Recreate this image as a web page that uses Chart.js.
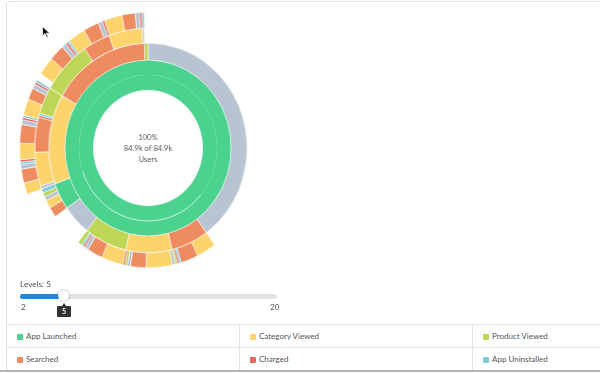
<!DOCTYPE html>
<html><head><meta charset="utf-8">
<script src="https://cdn.jsdelivr.net/npm/chart.js@4.4.1/dist/chart.umd.min.js"></script>
<style>
html,body{margin:0;padding:0;background:#fff;width:600px;height:373px;overflow:hidden;font-family:Lato,"Open Sans",sans-serif;color:#555;}
#panel{position:absolute;left:6px;top:1px;width:600px;height:370px;border:1px solid #e3e3e3;border-radius:3px;box-sizing:border-box;}
#bottomLine{position:absolute;left:0;top:370px;width:600px;height:2px;background:#b4b4b4;}
#chartBox{position:absolute;left:12px;top:12px;width:272px;height:272px;transform:scaleX(0.946);transform-origin:50% 50%;}
#levels{position:absolute;left:20px;top:279px;font-size:8.2px;}
#track{position:absolute;left:20px;top:294px;width:257px;height:5px;border-radius:3px;background:#e2e2e2;}
#fill{position:absolute;left:20px;top:294px;width:44px;height:5px;border-radius:3px;background:#1d87e4;}
#knob{position:absolute;left:58px;top:290px;width:11px;height:11px;border-radius:50%;background:#fff;box-shadow:0 0 2px rgba(0,0,0,.45);}
#min{position:absolute;left:21px;top:302px;font-size:8px;}
#max{position:absolute;left:270px;top:302px;font-size:8px;}
#tip{position:absolute;left:57px;top:306px;width:14px;height:11px;background:#333;color:#fff;font-size:7px;font-weight:bold;text-align:center;line-height:11px;border-radius:1px;}
#tip:before{content:"";position:absolute;left:5px;top:-3px;border-left:2px solid transparent;border-right:2px solid transparent;border-bottom:3px solid #333;}
#legend{position:absolute;left:7px;top:324px;width:593px;height:46px;border-top:1px solid #e3e3e3;}
.cell{position:absolute;height:23px;box-sizing:border-box;font-size:8px;line-height:23px;}
.cell span{display:inline-block;width:6px;height:6px;margin:0 3px 0 10px;vertical-align:-0.5px;border-radius:1px;}
#cursor{position:absolute;left:42px;top:26px;}
</style></head>
<body>
<div id="panel"></div>
<div id="chartBox"><canvas id="c"></canvas></div>
<svg id="cursor" width="9" height="13" viewBox="0 0 9 13"><path d="M0.5 0.5 L0.5 10 L3 7.6 L4.8 11.8 L6.2 11.2 L4.4 7.2 L7.8 7.2 Z" fill="#111" stroke="#fff" stroke-width="0.8"/></svg>
<div id="levels">Levels: 5</div>
<div id="track"></div><div id="fill"></div><div id="knob"></div>
<div id="min">2</div><div id="max">20</div>
<div id="tip">5</div>
<div id="legend"></div>
<div id="bottomLine"></div>
<script>
// ---- data (thousands of users, clockwise from 12 o'clock) ----
const eventNames = ['App Launched','Category Viewed','Product Viewed','Searched','Charged','App Uninstalled'];
const eventColors = ['#4bd28e','#fdd36b','#bdd655','#ee8c60','#e6675f','#7fcbd8'];
const dropColor = '#b8c4d2';
const centerLines = ['100%','84.9k of 84.9k','Users'];
const sliderMin = 2, sliderMax = 20, sliderValue = 5;

const level1Events = ['AL'];
const level1Users  = [84.9];

const level2Events = ['AL'];
const level2Users  = [84.9];

const level3Events = ['DROP','SE','CV','PV','DROP','AL','CV','SE','PV'];
const level3Users  = [33.96,5.19,6.37,5.90,4.01,3.54,11.79,13.68,0.47];

const level4Events = ['NONE','CV','SE','AU','CH','PV','DROP','CV','SE','DROP','PV','CH','CV','SE','DROP','CH','AU','PV','NONE','SE','CV','DROP','PV','AU','DROP','CV','SE','CH','AU','PV','PV','SE','CV','DROP','NONE'];
const level4Users  = [33.96,2.36,2.12,0.24,0.24,0.24,0.35,3.18,1.89,0.35,0.35,0.24,2.59,1.89,0.47,0.24,0.24,0.47,4.01,1.18,0.94,0.47,0.47,0.47,0.35,3.89,4.01,0.24,0.24,3.07,6.13,3.30,4.01,0.24,0.47];

const level5Events = ['NONE','CV','SE','DROP','AU','CH','CV','SE','DROP','CH','AU','CV','SE','DROP','CH','AU','NONE','CV','SE','DROP','CH','AU','CV','SE','DROP','CH','CV','SE','DROP','CH','AU','NONE'];
const level5Users  = [58.96,1.18,1.42,0.47,0.24,0.24,1.65,1.89,0.47,0.24,0.24,1.65,1.18,0.47,0.24,0.24,0.71,1.89,1.65,0.47,0.24,0.24,1.89,1.65,0.47,0.24,1.89,1.42,0.47,0.24,0.24,0.41];

// ---- rendering ----
const codeIndex = {AL:0,CV:1,PV:2,SE:3,CH:4,AU:5};
function colorOf(code){
  if(code==='NONE') return 'rgba(0,0,0,0)';
  if(code==='DROP') return dropColor;
  return eventColors[codeIndex[code]];
}
function ring(events, users, weight, bw){
  return {
    data: users,
    backgroundColor: events.map(colorOf),
    borderColor: '#ffffff',
    borderWidth: events.map(e => e==='NONE' ? 0 : bw),
    borderAlign: 'center',
    weight: weight
  };
}
const rings = [
  ring(level5Events, level5Users, 16, 0.6),
  ring(level4Events, level4Users, 15, 0.6),
  ring(level3Events, level3Users, 17, 0.6),
  ring(level2Events, level2Users, 15, 0),
  ring(level1Events, level1Users, 15, 0)
];

// faint separator between the two inner rings (lower half) + center label
const ringDecor = {
  id:'ringDecor',
  afterDatasetsDraw(chart){
    const inner = chart.getDatasetMeta(4).data[0];
    const ctx = chart.ctx;
    ctx.save();
    ctx.strokeStyle = 'rgba(255,255,255,0.9)';
    ctx.lineWidth = 0.7;
    ctx.beginPath();
    ctx.arc(inner.x, inner.y, inner.outerRadius, Math.PI*40/180, Math.PI*161/180);
    ctx.stroke();
    ctx.restore();
  },
  afterDraw(chart){
    const arc = chart.getDatasetMeta(0).data[0];
    const ctx = chart.ctx;
    ctx.save();
    ctx.fillStyle = '#555';
    ctx.font = '8px Lato, "Open Sans", sans-serif';
    ctx.textAlign = 'center';
    ctx.textBaseline = 'middle';
    ctx.fillText(centerLines[0], arc.x, arc.y - 11);
    ctx.fillText(centerLines[1], arc.x, arc.y);
    ctx.fillText(centerLines[2], arc.x, arc.y + 11);
    ctx.restore();
  }
};

new Chart(document.getElementById('c'), {
  type: 'doughnut',
  data: { datasets: rings },
  options: {
    responsive: true,
    maintainAspectRatio: false,
    animation: false,
    events: [],
    cutout: 58,
    rotation: 0,
    layout: { padding: 0 },
    plugins: { legend: {display:false}, tooltip: {enabled:false} }
  },
  plugins: [ringDecor]
});

// legend grid
const lg = document.getElementById('legend');
const colX = [0, 233, 466], colW = [233, 233, 127];
eventNames.forEach((name, i) => {
  const r = Math.floor(i/3), c = i%3;
  const d = document.createElement('div');
  d.className = 'cell';
  d.style.left = colX[c] + 'px';
  d.style.top = (r*23) + 'px';
  d.style.width = colW[c] + 'px';
  d.style.borderBottom = r===0 ? '1px solid #e3e3e3' : 'none';
  d.style.borderRight = c<2 ? '1px solid #e3e3e3' : 'none';
  d.innerHTML = '<span style="background:'+eventColors[i]+'"></span>' + name;
  lg.appendChild(d);
});
document.getElementById('levels').textContent = 'Levels: ' + sliderValue;
document.getElementById('tip').textContent = sliderValue;
document.getElementById('min').textContent = sliderMin;
document.getElementById('max').textContent = sliderMax;
</script>
</body></html>
